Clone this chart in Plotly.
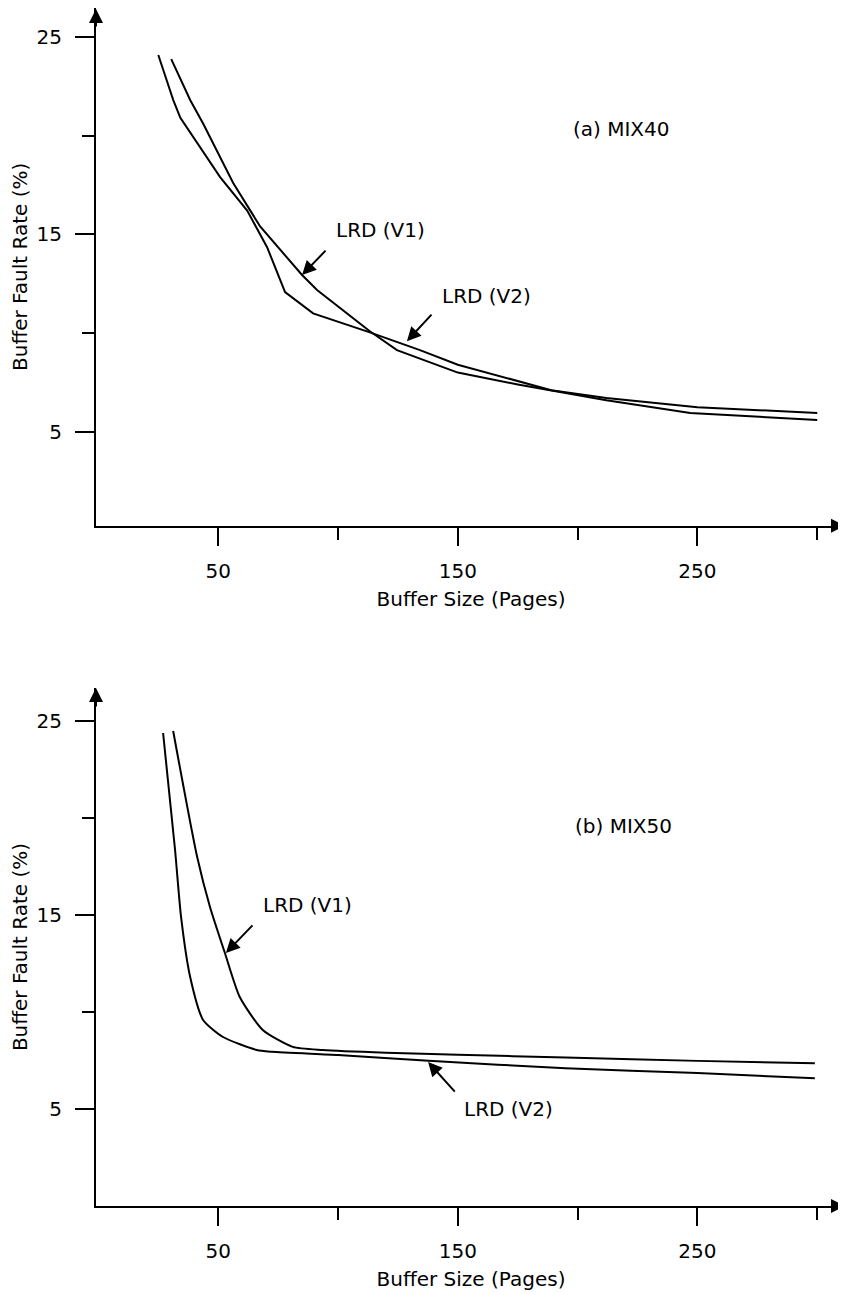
import plotly.graph_objects as go

# ---------------- data ----------------
# (a) MIX40
a_v1_x = [30.4, 38.3, 43.75, 56.25, 67.5, 85.0, 91.25, 113.0, 124.6, 150, 175, 189, 212, 247, 300]
a_v1_y = [23.87, 21.8, 20.6, 17.6, 15.4, 12.94, 12.18, 10.12, 9.14, 8.0, 7.4, 7.11, 6.6, 5.95, 5.6]
a_v2_x = [25.0, 31.25, 34.2, 42.5, 50.8, 62.1, 70.4, 77.9, 89.6, 113.0, 134.2, 150, 175, 189, 212, 250, 300]
a_v2_y = [24.08, 21.8, 20.9, 19.4, 17.9, 16.2, 14.35, 12.08, 11.0, 10.05, 9.14, 8.4, 7.55, 7.11, 6.71, 6.25, 5.95]

# (b) MIX50
b_v1_x = [31.2, 41.2, 46.6, 52.8, 59.0, 68.6, 81.1, 93.6, 120, 150, 195, 250, 299]
b_v1_y = [24.48, 18.0, 15.4, 13.04, 10.77, 9.07, 8.2, 8.04, 7.9, 7.8, 7.65, 7.48, 7.36]
b_v2_x = [27.0, 32.0, 34.5, 38.3, 43.7, 52.0, 66.1, 72.4, 100, 137.8, 194.9, 250, 299]
b_v2_y = [24.38, 18.35, 14.9, 11.8, 9.59, 8.71, 8.04, 7.95, 7.78, 7.49, 7.1, 6.85, 6.58]

x_major = [50, 150, 250]
x_minor = [100, 200, 300]
y_major = [5, 15, 25]
y_minor = [10, 20]

x_title = "Buffer Size (Pages)"
y_title = "Buffer Fault Rate (%)"

FONT = "DejaVu Sans, Liberation Sans, Arial, sans-serif"
FS = 20
LW = 2

fig = go.Figure()
line = dict(color="black", width=LW)
sline = dict(color="black", width=LW, shape="spline", smoothing=0.6)
fig.add_trace(go.Scatter(x=a_v1_x, y=a_v1_y, mode="lines", line=line, xaxis="x", yaxis="y", showlegend=False))
fig.add_trace(go.Scatter(x=a_v2_x, y=a_v2_y, mode="lines", line=line, xaxis="x", yaxis="y", showlegend=False))
fig.add_trace(go.Scatter(x=b_v1_x, y=b_v1_y, mode="lines", line=sline, xaxis="x2", yaxis="y2", showlegend=False))
fig.add_trace(go.Scatter(x=b_v2_x, y=b_v2_y, mode="lines", line=sline, xaxis="x2", yaxis="y2", showlegend=False))


def xax(anchor):
    return dict(
        domain=[0, 1], anchor=anchor, range=[-1, 312],
        showline=True, linecolor="black", linewidth=LW, zeroline=False, showgrid=False,
        ticks="outside", tickvals=x_major, ticklen=18, tickwidth=LW, tickcolor="black",
        ticklabelstandoff=8,
        minor=dict(tickvals=x_minor, ticks="outside", ticklen=12, tickwidth=LW, tickcolor="black", showgrid=False),
        tickfont=dict(family=FONT, size=FS, color="black"),
        title=dict(text=x_title, font=dict(family=FONT, size=FS, color="black"), standoff=10),
    )


def yax(anchor, domain, rng):
    return dict(
        domain=domain, anchor=anchor, range=rng,
        showline=True, linecolor="black", linewidth=LW, zeroline=False, showgrid=False,
        ticks="outside", tickvals=y_major, ticklen=19, tickwidth=LW, tickcolor="black",
        ticklabelstandoff=9,
        minor=dict(tickvals=y_minor, ticks="outside", ticklen=12, tickwidth=LW, tickcolor="black", showgrid=False),
        tickfont=dict(family=FONT, size=FS, color="black"),
        title=dict(text=y_title, font=dict(family=FONT, size=FS, color="black"), standoff=7),
    )


top_range = [0.25, 26.46]
bot_range = [0, 26.7]
top_dom = [0.5679, 1.0]
bot_dom = [0.0, 0.4324]

ann = []
# axis arrowheads
for xr, yr, ybase, ytop in [("x", "y", top_range[0], top_dom[1]), ("x2", "y2", bot_range[0], bot_dom[1])]:
    ann.append(dict(xref="paper", yref=yr, x=1.0, y=ybase, ax=-16, ay=0, text="", showarrow=True,
                    arrowhead=2, arrowsize=1.4, arrowwidth=LW, arrowcolor="black"))
    ann.append(dict(xref=xr, yref="paper", x=-1, y=ytop, ax=0, ay=20, text="", showarrow=True,
                    arrowhead=2, arrowsize=1.4, arrowwidth=LW, arrowcolor="black"))


def pointer(xr, yr, tip, tail):
    return dict(xref=xr, yref=yr, x=tip[0], y=tip[1], axref=xr, ayref=yr, ax=tail[0], ay=tail[1],
                text="", showarrow=True, arrowhead=2, arrowsize=1.4, arrowwidth=LW, arrowcolor="black")


def label(xr, yr, pos, text):
    return dict(xref=xr, yref=yr, x=pos[0], y=pos[1], text=text, showarrow=False,
                font=dict(family=FONT, size=FS, color="black"), xanchor="center", yanchor="middle")


ann += [
    pointer("x", "y", (85.0, 12.94), (95.4, 14.25)),
    label("x", "y", (117.9, 15.2), "LRD (V1)"),
    pointer("x", "y", (128.75, 9.59), (139.6, 11.01)),
    label("x", "y", (162.0, 11.87), "LRD (V2)"),
    label("x", "y", (218.3, 20.33), "(a) MIX40"),
    pointer("x2", "y2", (53.2, 13.04), (64.9, 14.54)),
    label("x2", "y2", (87.3, 15.5), "LRD (V1)"),
    pointer("x2", "y2", (137.6, 7.42), (149.3, 5.82)),
    label("x2", "y2", (171.3, 5.0), "LRD (V2)"),
    label("x2", "y2", (219.0, 19.6), "(b) MIX50"),
]

fig.update_layout(
    width=838, height=1286,
    margin=dict(l=88, r=0, t=0, b=88),
    paper_bgcolor="white", plot_bgcolor="white",
    font=dict(family=FONT, size=FS, color="black"),
    xaxis=xax("y"), yaxis=yax("x", top_dom, top_range),
    xaxis2=xax("y2"), yaxis2=yax("x2", bot_dom, bot_range),
    annotations=ann,
    showlegend=False,
)

fig.write_html("out.html")
